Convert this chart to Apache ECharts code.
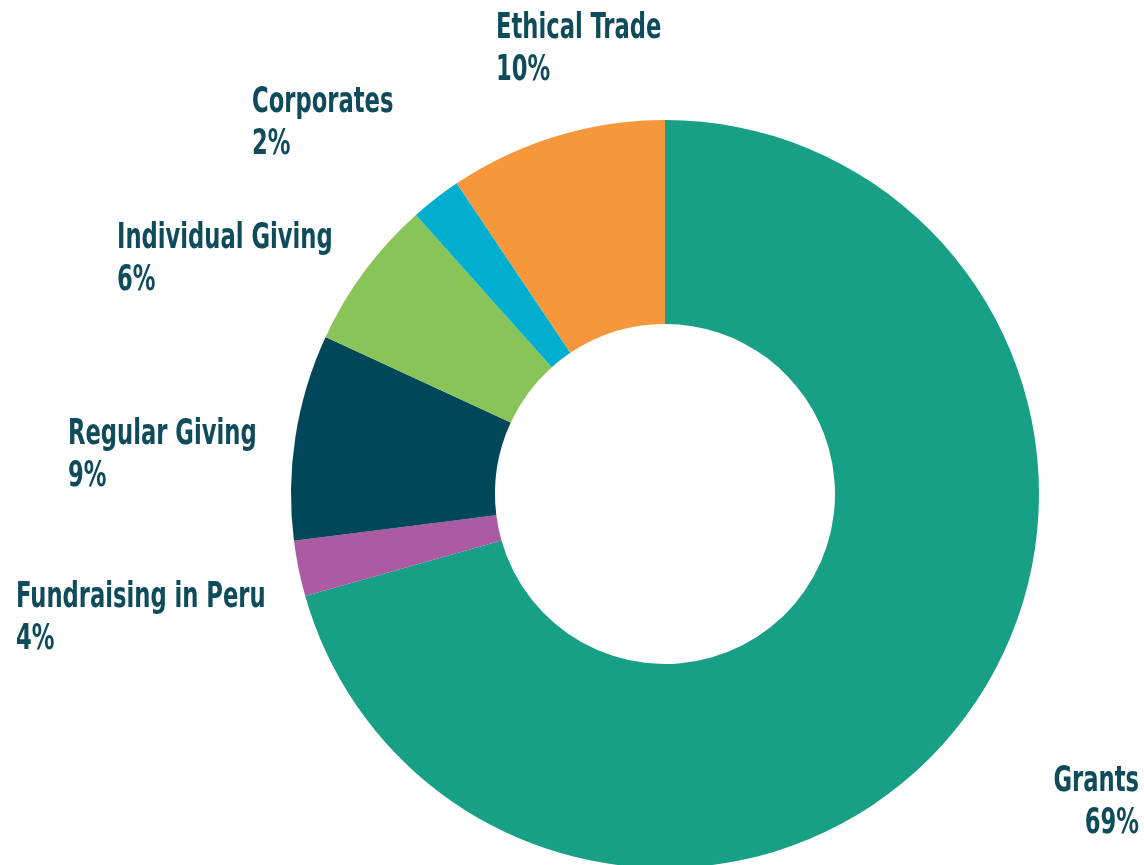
<!DOCTYPE html>
<html>
<head>
<meta charset="utf-8">
<script src="https://cdn.jsdelivr.net/npm/echarts@6/dist/echarts.min.js"></script>
<style>
html,body{margin:0;padding:0;background:#fff;}
#chart{width:1144px;height:865px;}
</style>
</head>
<body>
<div id="chart"></div>
<script>
// Data
const categories = ['Grants', 'Fundraising in Peru', 'Regular Giving', 'Individual Giving', 'Corporates', 'Ethical Trade'];
const values = [70.6, 2.4, 8.9, 6.5, 2.2, 9.4];            // slice sizes as drawn
const labelPct = ['69%', '4%', '9%', '6%', '2%', '10%'];   // printed labels
const colors = ['#17a085', '#ac5ba3', '#01475a', '#89c459', '#00afcf', '#f5973a'];

// label placement (block anchor: x, y = vertical middle of two-line block)
const labelPlace = [
  {x: 1139, y: 802.5, align: 'right'},
  {x: 16,   y: 618.5, align: 'left'},
  {x: 68,   y: 455.5, align: 'left'},
  {x: 117,  y: 259.5, align: 'left'},
  {x: 252,  y: 123.5, align: 'left'},
  {x: 496,  y: 49.5,  align: 'left'}
];

const chart = echarts.init(document.getElementById('chart'), null, {renderer: 'canvas'});

const labelGraphics = categories.map(function (c, i) {
  const p = labelPlace[i];
  return {
    type: 'text',
    x: p.x,
    y: p.y,
    scaleX: 0.7,
    originX: 0,
    originY: 0,
    silent: true,
    style: {
      text: c + '\n' + labelPct[i],
      x: 0,
      y: 0,
      align: p.align,
      verticalAlign: 'middle',
      fontFamily: '"DejaVu Sans Condensed", "DejaVu Sans", sans-serif',
      fontWeight: 'bold',
      fontSize: 36,
      lineHeight: 42,
      fill: '#0e4b5b'
    }
  };
});

const option = {
  animation: false,
  backgroundColor: '#ffffff',
  graphic: {elements: labelGraphics},
  series: [{
    type: 'pie',
    center: [665, 494],
    radius: [170, 374],
    startAngle: 90,
    clockwise: true,
    avoidLabelOverlap: false,
    itemStyle: {borderWidth: 0},
    label: {show: false},
    labelLine: {show: false},
    emphasis: {disabled: true},
    data: categories.map(function (c, i) {
      return {name: c, value: values[i], itemStyle: {color: colors[i]}};
    })
  }]
};
chart.setOption(option);
</script>
</body>
</html>
